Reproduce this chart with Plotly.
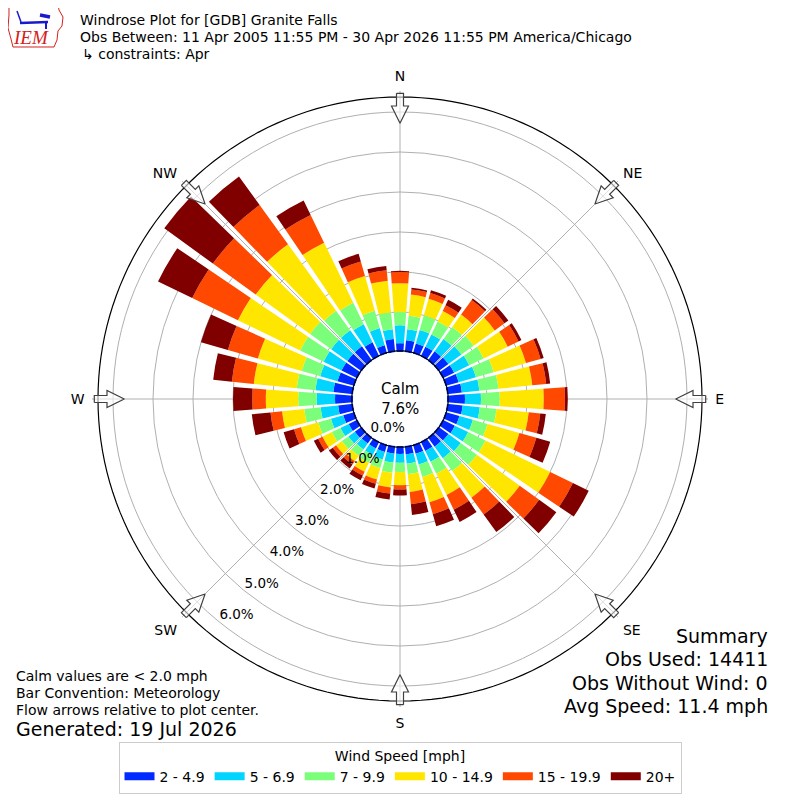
import math
import plotly.graph_objects as go

# ---------------- data ----------------
directions = list(range(0, 360, 10))
bin_labels = ["2 - 4.9", "5 - 6.9", "7 - 9.9", "10 - 14.9", "15 - 19.9", "20+"]
bin_colors = ["#002aff", "#00d4ff", "#7bff7b", "#ffe600", "#ff4800", "#800000"]

# percent of observations per direction (0, 10, ..., 350 deg)
speed_2_4_9 = [0.22, 0.30, 0.27, 0.28, 0.30, 0.32, 0.33, 0.35, 0.38, 0.45, 0.40, 0.37,
               0.35, 0.32, 0.30, 0.27, 0.25, 0.22, 0.20, 0.20, 0.20, 0.20, 0.20, 0.22,
               0.25, 0.30, 0.38, 0.45, 0.50, 0.45, 0.45, 0.45, 0.45, 0.40, 0.22, 0.33]
speed_5_6_9 = [0.45, 0.28, 0.35, 0.34, 0.38, 0.40, 0.42, 0.45, 0.44, 0.40, 0.43, 0.35,
               0.37, 0.38, 0.35, 0.30, 0.28, 0.23, 0.22, 0.22, 0.20, 0.18, 0.18, 0.20,
               0.23, 0.32, 0.44, 0.46, 0.45, 0.45, 0.50, 0.50, 0.50, 0.50, 0.45, 0.25]
speed_7_9_9 = [0.33, 0.34, 0.38, 0.36, 0.37, 0.38, 0.40, 0.46, 0.48, 0.47, 0.42, 0.38,
               0.48, 0.50, 0.40, 0.33, 0.32, 0.26, 0.23, 0.26, 0.22, 0.22, 0.20, 0.20,
               0.24, 0.33, 0.41, 0.46, 0.47, 0.48, 0.65, 0.65, 0.60, 0.60, 0.45, 0.42]
speed_10_14_9 = [0.72, 0.53, 0.43, 0.29, 0.38, 0.65, 0.67, 0.84, 0.85, 1.10, 0.81, 0.83,
                 1.80, 1.32, 0.82, 0.59, 0.66, 0.45, 0.33, 0.37, 0.30, 0.25, 0.17, 0.18,
                 0.26, 0.45, 0.56, 0.81, 1.08, 1.14, 1.73, 1.68, 2.05, 1.67, 0.90, 0.80]
speed_15_19_9 = [0.28, 0.13, 0.15, 0.16, 0.45, 0.30, 0.30, 0.38, 0.35, 0.53, 0.29, 0.44,
                 0.63, 0.60, 0.52, 0.41, 0.31, 0.31, 0.11, 0.15, 0.11, 0.10, 0.10, 0.10,
                 0.12, 0.18, 0.29, 0.34, 0.55, 0.78, 1.27, 1.32, 1.21, 0.77, 0.38, 0.26]
speed_20_plus = [0.03, 0.04, 0.07, 0.15, 0.05, 0.12, 0.08, 0.08, 0.10, 0.07, 0.14, 0.36,
                 0.44, 0.53, 0.54, 0.34, 0.31, 0.27, 0.15, 0.15, 0.12, 0.13, 0.12, 0.12,
                 0.12, 0.27, 0.47, 0.48, 0.47, 0.70, 0.95, 1.50, 0.88, 0.40, 0.20, 0.11]
series = [speed_2_4_9, speed_5_6_9, speed_7_9_9, speed_10_14_9, speed_15_19_9, speed_20_plus]

radial_ticks = [0, 1, 2, 3, 4, 5, 6]
radial_tick_text = ["0.0%", "1.0%", "2.0%", "3.0%", "4.0%", "5.0%", "6.0%"]
compass_angles = [0, 45, 90, 135, 180, 225, 270, 315]
compass_labels = ["N", "NE", "E", "SE", "S", "SW", "W", "NW"]
calm_pct = 7.6

title_lines = ["Windrose Plot for [GDB] Granite Falls",
               "Obs Between: 11 Apr 2005 11:55 PM - 30 Apr 2026 11:55 PM America/Chicago",
               "\u21b3 constraints: Apr"]
notes_left = ["Calm values are < 2.0 mph", "Bar Convention: Meteorology",
              "Flow arrows relative to plot center."]
generated = "Generated: 19 Jul 2026"
summary_lines = ["Summary", "Obs Used: 14411", "Obs Without Wind: 0", "Avg Speed: 11.4 mph"]

# ---------------- geometry / style ----------------
OFF = 8                    # page body margin of the viewer
W = H = 800 - OFF
def px(x):                 # reference-pixel x -> paper fraction
    return (x - OFF) / W
def py(y):                 # reference-pixel y (from top) -> paper fraction
    return 1 - (y - OFF) / H

CX, CY = 400, 399          # reference pixel centre
OUTER_PX = 308             # polar frame radius
HOLE_PX = 47
RMAX = 6.525
PX_PER = (OUTER_PX - HOLE_PX) / RMAX
FONT = "DejaVu Sans"
GRID = "#b0b0b0"

fig = go.Figure()

for vals, name, col in zip(series, bin_labels, bin_colors):
    fig.add_trace(go.Barpolar(r=vals, theta=directions, width=8.2, name=name,
                              marker=dict(color=col, line=dict(width=0)),
                              showlegend=False, hoverinfo="skip"))

# outer black ring and calm ring
ring_theta = [i for i in range(0, 361, 2)]
fig.add_trace(go.Scatterpolar(r=[6.375] * len(ring_theta), theta=ring_theta, mode="lines",
                              line=dict(color="black", width=1.2), showlegend=False,
                              hoverinfo="skip"))
fig.add_trace(go.Scatterpolar(r=[0.03] * len(ring_theta), theta=ring_theta, mode="lines",
                              line=dict(color="black", width=1.2), showlegend=False,
                              hoverinfo="skip"))

# flow arrows at the compass points (pixel-style geometry converted to polar coords)
arrow_local = [(305.7, -3.5), (293, -3.5), (293, -8.5), (275.7, 0), (293, 8.5),
               (293, 3.5), (305.7, 3.5), (305.7, -3.5)]
for ang in compass_angles:
    rr, tt = [], []
    for d, w in arrow_local:
        rr.append((math.hypot(d, w) - HOLE_PX) / PX_PER)
        tt.append(ang + math.degrees(math.atan2(w, d)))
    fig.add_trace(go.Scatterpolar(r=rr, theta=tt, mode="lines", fill="toself",
                                  fillcolor="rgba(255,255,255,0.6)",
                                  line=dict(color="#404040", width=1.2),
                                  showlegend=False, hoverinfo="skip"))

# radial labels
fig.add_trace(go.Scatterpolar(r=radial_ticks, theta=[219] * len(radial_ticks), mode="text",
                              text=radial_tick_text, textposition="top right",
                              textfont=dict(family=FONT, size=13.5, color="black"),
                              cliponaxis=False, showlegend=False, hoverinfo="skip"))

# legend entries (wide flat patches like the reference)
for name, col in zip(bin_labels, bin_colors):
    fig.add_trace(go.Scatterpolar(r=[None], theta=[None], mode="lines", name=name,
                                  line=dict(color=col, width=8), showlegend=True,
                                  hoverinfo="skip"))

dom_x = [px(CX - OUTER_PX), px(CX + OUTER_PX)]
dom_y = [py(CY + OUTER_PX), py(CY - OUTER_PX)]

fig.update_layout(
    width=W, height=H, margin=dict(l=0, r=0, t=0, b=0),
    paper_bgcolor="white", plot_bgcolor="white",
    font=dict(family=FONT, size=14, color="black"),
    polar=dict(
        domain=dict(x=dom_x, y=dom_y), hole=HOLE_PX / OUTER_PX, bgcolor="white",
        barmode="stack",
        angularaxis=dict(rotation=90, direction="clockwise", tickmode="array",
                         tickvals=compass_angles, ticktext=compass_labels,
                         ticks="outside", ticklen=4, tickcolor="rgba(0,0,0,0)",
                         showline=False, showgrid=True, gridcolor=GRID, gridwidth=1,
                         layer="above traces",
                         tickfont=dict(family=FONT, size=14, color="black")),
        radialaxis=dict(range=[0, RMAX], tickmode="array", tickvals=radial_ticks[1:],
                        showticklabels=False, ticks="", showline=False,
                        layer="above traces", gridcolor=GRID, gridwidth=1),
    ),
    legend=dict(orientation="h", x=px(400), xanchor="center", y=py(741.5), yanchor="top",
                title=dict(text="Wind Speed [mph]", side="top center",
                           font=dict(family=FONT, size=14)),
                font=dict(family=FONT, size=14), bordercolor="#cccccc", borderwidth=1,
                bgcolor="white", itemwidth=30, itemclick=False, itemdoubleclick=False),
    showlegend=True,
)

def note(text, x, y, anchor, size, color="black", family=FONT):
    return dict(text=text, x=px(x), y=py(y), xref="paper", yref="paper",
                xanchor=anchor, yanchor="middle", showarrow=False, borderpad=0,
                borderwidth=0, font=dict(family=family, size=size, color=color))

ann = []
for i, t in enumerate(title_lines):
    ann.append(note(t, 80 if i < 2 else 82, 20 + 17 * i, "left", 14))
ann.append(note(f"Calm<br>{calm_pct:.1f}%", CX, CY, "center", 15))
for i, t in enumerate(notes_left):
    ann.append(note(t, 16, 675.5 + 17.4 * i, "left", 14))
ann.append(note(generated, 16, 729, "left", 19))
for i, t in enumerate(summary_lines):
    ann.append(note(t, 767.5, 636 + 23.4 * i, "right", 19))
ann.append(note("<i>IEM</i>", 31, 37, "center", 19, "#d62020", "Liberation Serif"))
fig.update_layout(annotations=ann)

# logo outline (decorative)
def pth(points):
    return "M " + " L ".join(f"{px(x):.5f} {py(y):.5f}" for x, y in points) + " Z"

iowa = [(9, 5), (58, 4), (59, 10), (63, 17), (62, 26), (58, 31), (57, 40), (54, 47),
        (13, 47), (11, 39), (8, 28), (9, 15)]
shapes = [dict(type="path", path=pth(iowa), xref="paper", yref="paper",
               line=dict(color="#d62020", width=1), fillcolor="rgba(0,0,0,0)")]
for seg, wd in [([(20, 23), (48, 22)], 2.5), ([(40, 15), (50, 17)], 3.5),
                ([(46, 22), (46, 29)], 2), ([(17, 11), (21, 22)], 1.5)]:
    shapes.append(dict(type="line", xref="paper", yref="paper",
                       x0=px(seg[0][0]), y0=py(seg[0][1]),
                       x1=px(seg[1][0]), y1=py(seg[1][1]),
                       line=dict(color="#1a1acc", width=wd)))
fig.update_layout(shapes=shapes)

fig.write_html("out.html", config={"displayModeBar": False})
